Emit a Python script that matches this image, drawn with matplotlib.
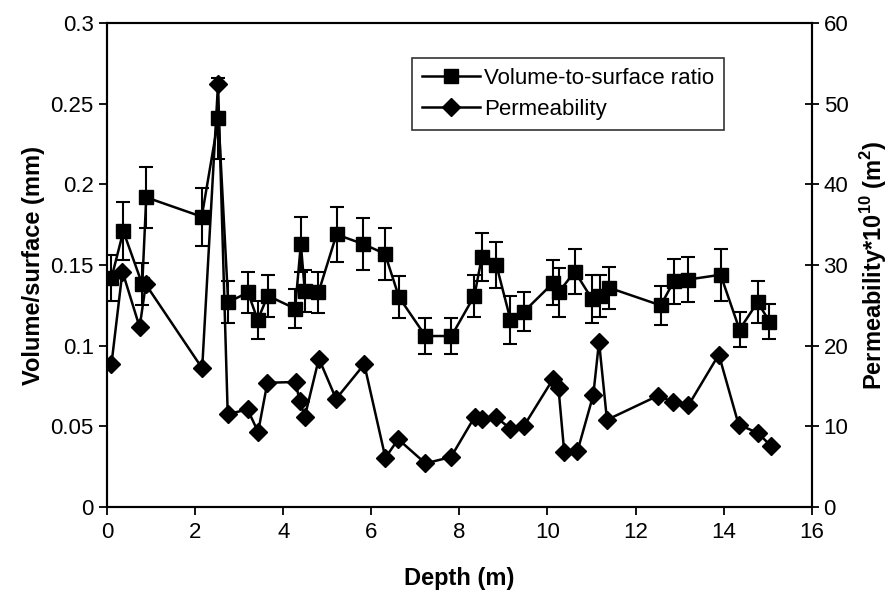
import matplotlib.pyplot as plt
from matplotlib.lines import Line2D

plt.rcParams['font.family'] = ['Liberation Sans', 'DejaVu Sans']
plt.rcParams['mathtext.fontset'] = 'custom'
plt.rcParams['mathtext.rm'] = 'Liberation Sans'
plt.rcParams['mathtext.bf'] = 'Liberation Sans:bold'

# volume-to-surface ratio (mm) with error bars
vs_depth = [0.1, 0.37, 0.8, 0.89, 2.15, 2.53, 2.75, 3.2, 3.42, 3.65,
            4.27, 4.4, 4.49, 4.8, 5.21, 5.82, 6.31, 6.63, 7.23, 7.82,
            8.34, 8.51, 8.84, 9.16, 9.46, 10.13, 10.25, 10.62, 11.01, 11.2,
            11.39, 12.57, 12.87, 13.19, 13.93, 14.36, 14.77, 15.04]
vs_ratio = [0.142, 0.171, 0.138, 0.192, 0.180, 0.241, 0.127, 0.133, 0.116, 0.131,
            0.123, 0.163, 0.134, 0.133, 0.169, 0.163, 0.157, 0.130, 0.106, 0.106,
            0.131, 0.155, 0.150, 0.116, 0.121, 0.139, 0.133, 0.146, 0.129, 0.131,
            0.136, 0.125, 0.140, 0.141, 0.144, 0.110, 0.127, 0.115]
vs_err = [0.014, 0.018, 0.013, 0.019, 0.018, 0.025, 0.013, 0.013, 0.012, 0.013,
          0.012, 0.017, 0.013, 0.013, 0.017, 0.016, 0.016, 0.013, 0.011, 0.011,
          0.013, 0.015, 0.014, 0.015, 0.012, 0.014, 0.015, 0.014, 0.015, 0.013,
          0.013, 0.012, 0.014, 0.014, 0.016, 0.011, 0.013, 0.011]

# permeability * 1e10 (m^2)
perm_depth = [0.1, 0.35, 0.74, 0.88, 2.16, 2.52, 2.74, 3.19, 3.43, 3.64,
              4.28, 4.37, 4.49, 4.81, 5.2, 5.84, 6.32, 6.61, 7.23, 7.81,
              8.35, 8.51, 8.84, 9.16, 9.46, 10.13, 10.25, 10.38, 10.68, 11.04,
              11.17, 11.35, 12.51, 12.86, 13.2, 13.89, 14.34, 14.77, 15.07]
perm = [17.7, 29.2, 22.3, 27.6, 17.2, 52.5, 11.5, 12.1, 9.3, 15.4,
        15.5, 13.2, 11.2, 18.4, 13.4, 17.7, 6.1, 8.4, 5.4, 6.2,
        11.2, 10.9, 11.1, 9.7, 10.0, 15.9, 14.7, 6.8, 6.9, 13.9,
        20.5, 10.8, 13.8, 13.0, 12.6, 18.9, 10.2, 9.2, 7.6]

fig = plt.figure(figsize=(8.95, 5.95), dpi=100)
ax = fig.add_axes([0.1196, 0.148, 0.7874, 0.813])
ax2 = ax.twinx()

ax.errorbar(vs_depth, vs_ratio, yerr=vs_err, color='black', marker='s',
            markersize=10.5, linewidth=1.8, elinewidth=1.5, capsize=5,
            capthick=1.5)
ax2.plot(perm_depth, perm, color='black', marker='D', markersize=9.5,
         linewidth=1.8)

ax.set_xlim(0, 16)
ax.set_ylim(0, 0.3)
ax2.set_ylim(0, 60)
ax.set_xticks(range(0, 17, 2))
ax.set_yticks([0, 0.05, 0.1, 0.15, 0.2, 0.25, 0.3])
ax.set_yticklabels(['0', '0.05', '0.1', '0.15', '0.2', '0.25', '0.3'])
ax2.set_yticks(range(0, 61, 10))

ax.tick_params(axis='x', direction='out', length=6, width=1.3, labelsize=16, pad=5)
ax.tick_params(axis='y', direction='out', length=6, width=1.3, labelsize=16)
ax2.tick_params(axis='y', direction='inout', length=10, width=1.3, labelsize=16)
for a in (ax, ax2):
    for s in a.spines.values():
        s.set_linewidth(1.5)

ax.set_xlabel('Depth (m)', fontsize=17, fontweight='bold', labelpad=17)
ax.set_ylabel('Volume/surface (mm)', fontsize=17, fontweight='bold')
ax2.set_ylabel(r'Permeability*10$^{\mathbf{10}}$ (m$^{\mathbf{2}}$)',
               fontsize=17, fontweight='bold', labelpad=7)

h1 = Line2D([], [], color='black', marker='s', markersize=10.5, linewidth=1.8)
h2 = Line2D([], [], color='black', marker='D', markersize=9.5, linewidth=1.8)
leg = ax2.legend([h1, h2], ['Volume-to-surface ratio', 'Permeability'],
                 loc='upper right', bbox_to_anchor=(0.876, 0.928),
                 borderaxespad=0, fontsize=16, frameon=True, fancybox=False,
                 handlelength=2.6, borderpad=0.45, labelspacing=0.45,
                 handletextpad=0.2)
leg.get_frame().set_edgecolor('black')
leg.get_frame().set_linewidth(1.2)

plt.savefig('out.png', dpi=100)
